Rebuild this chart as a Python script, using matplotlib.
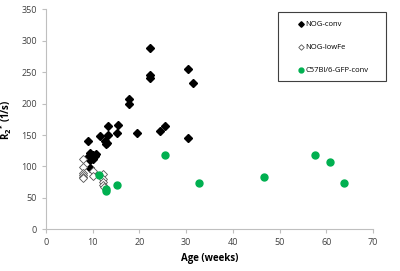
import matplotlib
matplotlib.use("Agg")
import matplotlib.pyplot as plt
from matplotlib.patches import Rectangle

plt.rcParams['font.family'] = ['Open Sans', 'DejaVu Sans']

nog_conv_x = [9.0, 9.4, 10.1, 9.3, 10.5, 10.0, 9.5, 10.7, 9.5, 11.6, 13.3, 12.7, 13.0, 12.8,
              13.3, 15.5, 15.2, 17.7, 17.7, 19.4, 22.2, 22.3, 22.3, 24.3, 25.5, 30.3, 30.3, 31.5]
nog_conv_y = [140, 121, 119, 116, 116, 112, 110, 120, 98, 148, 150, 140, 137, 135,
              165, 166, 153, 207, 200, 153, 289, 246, 241, 156, 165, 255, 145, 233]

nog_lowfe_x = [8.0, 8.0, 8.0, 8.0, 8.0, 8.0, 10.1, 10.1, 12.1, 12.3, 12.2, 12.2, 12.4]
nog_lowfe_y = [112, 99, 90, 87, 84, 82, 92, 85, 88, 80, 75, 70, 67]

c57_x = [11.3, 12.8, 12.8, 15.3, 25.4, 32.7, 46.6, 57.5, 60.9, 63.7]
c57_y = [86.5, 64.5, 61.5, 70.5, 118, 74, 84, 119, 107, 74]

labels = ['NOG-conv', 'NOG-lowFe', 'C57Bl/6-GFP-conv']

fig = plt.figure(figsize=(4.0, 2.71), dpi=100)
ax = fig.add_axes([0.115, 0.154, 0.8175, 0.811])

ax.plot(nog_conv_x, nog_conv_y, 'D', color='black', markersize=4, label=labels[0], linestyle='none')
ax.plot(nog_lowfe_x, nog_lowfe_y, 'D', markerfacecolor='white', markeredgecolor='#555555',
        markeredgewidth=0.6, markersize=4, label=labels[1], linestyle='none')
ax.plot(c57_x, c57_y, 'o', color='#00b050', markersize=5, label=labels[2], linestyle='none')

ax.set_xlim(0, 70)
ax.set_ylim(0, 350)
ax.set_xticks(range(0, 71, 10))
ax.set_yticks(range(0, 351, 50))
for s in ['top', 'right']:
    ax.spines[s].set_visible(False)
for s in ['left', 'bottom']:
    ax.spines[s].set_color('#bfbfbf')
    ax.spines[s].set_linewidth(0.8)
ax.tick_params(axis='both', colors='#bfbfbf', labelcolor='#404040', labelsize=6.5,
               length=3, width=0.8, direction='out')

ax.set_xlabel('Age (weeks)', fontsize=7, fontweight='bold', labelpad=4)
ax.set_ylabel('R$_\\mathbf{2}$$^\\mathbf{*}$ (1/s)', fontsize=7, fontweight='bold', labelpad=5)

# legend frame
fig.patches.append(Rectangle((0.694, 0.702), 0.27, 0.2524, transform=fig.transFigure,
                             facecolor='white', edgecolor='#404040', linewidth=0.8, zorder=5))
leg = fig.legend(loc='upper left', bbox_to_anchor=(0.746, 0.922), fontsize=5.5, frameon=False,
                 labelspacing=2.05, handlelength=0.6, handletextpad=0.35, borderpad=0,
                 borderaxespad=0, markerscale=0.7)
leg.set_zorder(6)

fig.savefig('out.png', dpi=100)
